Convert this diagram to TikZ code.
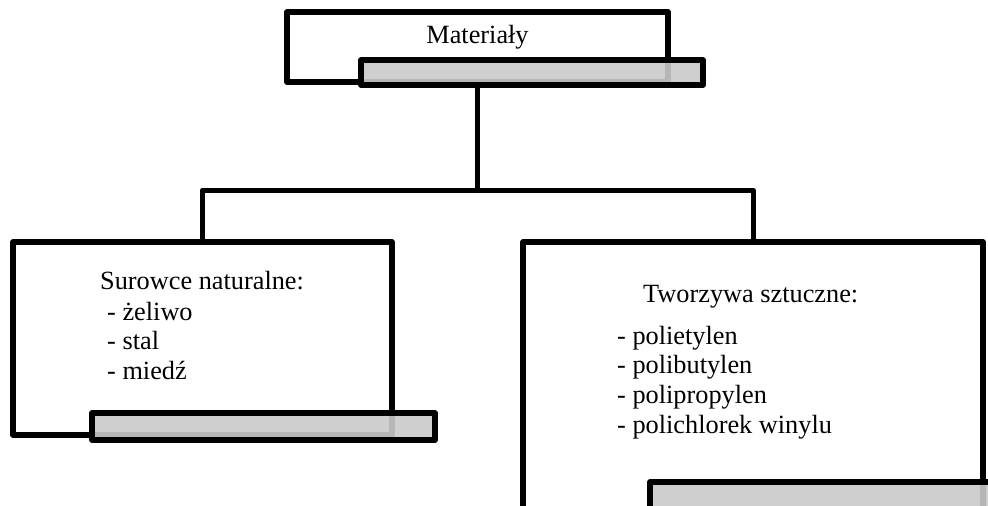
\documentclass[tikz,border=0pt]{standalone}
\usepackage{fontspec}
\setmainfont{Liberation Serif}
\definecolor{bargray}{RGB}{202,202,202}

\begin{document}
\begin{tikzpicture}[x=1pt, y=-1pt, line join=round,
  box/.style={draw, line width=5.5pt, fill=white, inner sep=0pt},
  bar/.style={draw, line width=5.5pt, fill=bargray, fill opacity=0.9, inner sep=0pt},
  conn/.style={line width=5pt},
  txt/.style={inner sep=0pt, font=\fontsize{26.3}{30}\selectfont}]
  \useasboundingbox (0,0) rectangle (988,506);
  \clip (0,0) rectangle (988,506);
  % boxes
  \node[box, minimum width=381pt, minimum height=70pt] (mat) at (477.5,47) {};
  \node[box, minimum width=379pt, minimum height=193pt] (sur) at (202.5,338.5) {};
  \node[box, minimum width=460pt, minimum height=288pt] (two) at (753,386) {};
  % shadow bars
  \node[bar, minimum width=342pt, minimum height=25pt] (matbar) at (532,72.5) {};
  \node[bar, minimum width=343pt, minimum height=27pt] (surbar) at (263.5,426.5) {};
  \node[bar, minimum width=350pt, minimum height=48pt] (twobar) at (825,506) {};
  % texts
  \node[txt, anchor=base] (mattxt) at (477.5,43) {Materiały};
  \node[txt, anchor=base west] (surtxt) at (100,289) {Surowce naturalne:};
  \foreach \s [count=\i from 0] in {żeliwo, stal, miedź}
    \node[txt, anchor=base west] (sur\i) at (107,{320+29.5*\i}) {- \s};
  \node[txt, anchor=base west] (twotxt) at (643,302) {Tworzywa sztuczne:};
  \foreach \s [count=\i from 0] in {polietylen, polibutylen, polipropylen, polichlorek winylu}
    \node[txt, anchor=base west] (two\i) at (617,{344+29.7*\i}) {- \s};
  % connectors
  \coordinate (fork) at (477.5,190);
  \draw[conn] (mat.south |- matbar.south) -- (fork);
  \draw[conn] (sur.north) |- (fork) -| (two.north);
\end{tikzpicture}
\end{document}
